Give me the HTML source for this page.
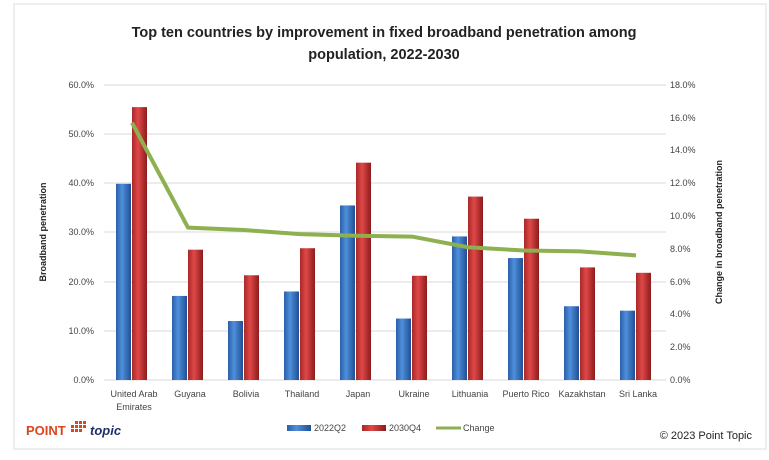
<!DOCTYPE html><html><head><style>body{margin:0;background:#fff}svg text{font-family:"Liberation Sans",sans-serif}</style></head><body>
<svg width="769" height="455" xmlns="http://www.w3.org/2000/svg">
<defs>
<linearGradient id="b" x1="0" x2="1"><stop offset="0" stop-color="#2a5fa8"/><stop offset=".4" stop-color="#4f8fdc"/><stop offset="1" stop-color="#1f4f94"/></linearGradient>
<linearGradient id="r" x1="0" x2="1"><stop offset="0" stop-color="#a82828"/><stop offset=".4" stop-color="#e04848"/><stop offset="1" stop-color="#8c1c1c"/></linearGradient>
</defs>
<rect x="14" y="4" width="752" height="445" fill="#fff" stroke="#ddd"/>
<text x="384" y="37" text-anchor="middle" font-size="14.5" font-weight="bold" fill="#222">Top ten countries by improvement in fixed broadband  penetration among</text>
<text x="384" y="59" text-anchor="middle" font-size="14.5" font-weight="bold" fill="#222">population, 2022-2030</text>
<g stroke="#d9d9d9" stroke-width="1">
<line x1="104" x2="666" y1="85" y2="85"/><line x1="104" x2="666" y1="134" y2="134"/><line x1="104" x2="666" y1="183" y2="183"/><line x1="104" x2="666" y1="232" y2="232"/><line x1="104" x2="666" y1="282" y2="282"/><line x1="104" x2="666" y1="331" y2="331"/><line x1="104" x2="666" y1="380" y2="380"/>
</g>
<g font-size="9" fill="#444" text-anchor="end">
<text x="94" y="88">60.0%</text><text x="94" y="137">50.0%</text><text x="94" y="186">40.0%</text><text x="94" y="235">30.0%</text><text x="94" y="285">20.0%</text><text x="94" y="334">10.0%</text><text x="94" y="383">0.0%</text>
</g>
<g font-size="9" fill="#444">
<text x="670" y="88">18.0%</text><text x="670" y="121">16.0%</text><text x="670" y="153">14.0%</text><text x="670" y="186">12.0%</text><text x="670" y="219">10.0%</text><text x="670" y="252">8.0%</text><text x="670" y="285">6.0%</text><text x="670" y="317">4.0%</text><text x="670" y="350">2.0%</text><text x="670" y="383">0.0%</text>
</g>
<text transform="translate(46,232) rotate(-90)" text-anchor="middle" font-size="9" font-weight="bold" fill="#222">Broadband penetration</text>
<text transform="translate(722,232) rotate(-90)" text-anchor="middle" font-size="9" font-weight="bold" fill="#222">Change in broadband penetration</text>
<g id="bars"></g>
<g font-size="9" fill="#444" text-anchor="middle" id="lbl"></g>
<polyline id="ln" fill="none" stroke="#8db050" stroke-width="4" stroke-linejoin="round"/>
<text x="26" y="435" font-size="13" font-weight="bold" fill="#d9461c">POINT</text>
<g fill="#d9461c"><rect x="71" y="425" width="3" height="3"/><rect x="75" y="425" width="3" height="3"/><rect x="79" y="425" width="3" height="3"/><rect x="71" y="429" width="3" height="3"/><rect x="75" y="429" width="3" height="3"/><rect x="79" y="429" width="3" height="3"/><rect x="83" y="425" width="3" height="3"/><rect x="75" y="421" width="3" height="3"/><rect x="79" y="421" width="3" height="3"/><rect x="83" y="421" width="3" height="3"/></g>
<text x="90" y="435" font-size="13" font-weight="bold" font-style="italic" fill="#1f2f6a">topic</text>
<rect x="287" y="425" width="24" height="6" fill="url(#b)"/><text x="314" y="431" font-size="9" fill="#444">2022Q2</text>
<rect x="362" y="425" width="24" height="6" fill="url(#r)"/><text x="389" y="431" font-size="9" fill="#444">2030Q4</text>
<line x1="436" x2="461" y1="428" y2="428" stroke="#8db050" stroke-width="3"/><text x="463" y="431" font-size="9" fill="#444">Change</text>
<text x="752" y="439" text-anchor="end" font-size="11" fill="#222">© 2023 Point Topic</text>
</svg>
<script>
var n=["United Arab|Emirates","Guyana","Bolivia","Thailand","Japan","Ukraine","Lithuania","Puerto Rico","Kazakhstan","Sri Lanka"],
b=[39.9,17.1,12.0,18.0,35.5,12.5,29.2,24.8,15.0,14.1],r=[55.5,26.5,21.3,26.8,44.2,21.2,37.3,32.8,22.9,21.8],
c=[15.7,9.3,9.15,8.9,8.8,8.75,8.1,7.9,7.85,7.6],s="",l="",p=[];
for(var i=0;i<10;i++){var x=132+56*i,yb=380-b[i]*4.917,yr=380-r[i]*4.917;
s+='<rect x="'+(x-16)+'" y="'+yb+'" width="15" height="'+(380-yb)+'" fill="url(#b)"/>';
s+='<rect x="'+x+'" y="'+yr+'" width="15" height="'+(380-yr)+'" fill="url(#r)"/>';
var t=n[i].split("|");l+='<text x="'+(x+2)+'" y="397">'+t[0]+'</text>';if(t[1])l+='<text x="'+(x+2)+'" y="410">'+t[1]+'</text>';
p.push(x+","+(380-c[i]*16.39));}
document.getElementById("bars").innerHTML=s;document.getElementById("lbl").innerHTML=l;document.getElementById("ln").setAttribute("points",p.join(" "));
</script>
</body></html>
